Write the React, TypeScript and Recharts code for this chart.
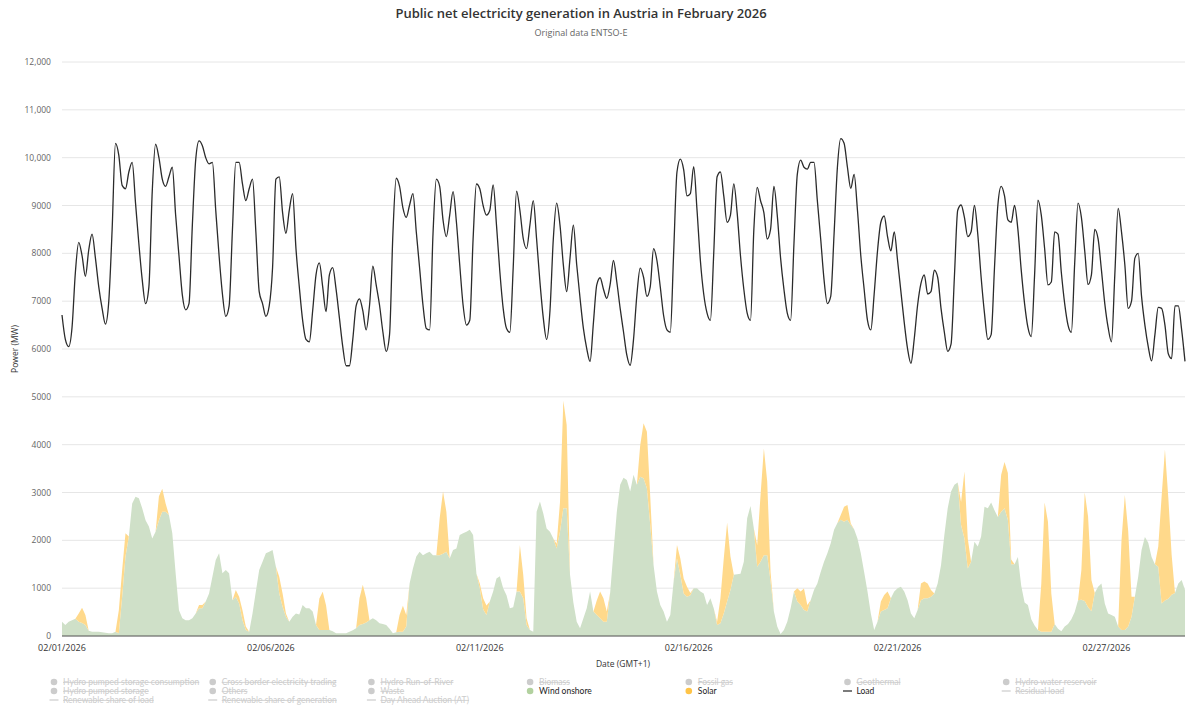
import { ComposedChart, Area, Line, XAxis, YAxis, CartesianGrid } from 'recharts';

// one reading every 2 hours, 02/01 00:00 .. 03/01 00:00 (GMT+1)
const STEP_HOURS = 2;

const load = [
  6710, 6200, 6050, 6450, 7600, 8230, 7950, 7520, 8070, 8400, 7900, 7300,
  6850, 6520, 7000, 8500, 10300, 10050, 9420, 9350, 9700, 9900, 9050, 8200,
  7450, 6950, 7300, 9290, 10280, 10000, 9550, 9400, 9600, 9800, 8800, 7950,
  7130, 6820, 6950, 8590, 9950, 10350, 10250, 10000, 9870, 9900, 8900, 7950,
  7150, 6680, 6900, 8500, 9900, 9900, 9450, 9100, 9350, 9550, 8450, 7200,
  6950, 6680, 6900, 7700, 9550, 9600, 8850, 8420, 8900, 9250, 8100, 7300,
  6600, 6200, 6150, 6800, 7550, 7800, 7300, 6780, 7550, 7700, 7250, 6650,
  6050, 5650, 5650, 6200, 6900, 7050, 6800, 6400, 6900, 7730, 7340, 6920,
  6360, 5950, 6300, 8400, 9570, 9400, 8950, 8750, 9010, 9250, 8450, 7690,
  6920, 6430, 6400, 8400, 9550, 9400, 8700, 8350, 8800, 9290, 8660, 7760,
  6920, 6500, 6600, 8300, 9450, 9350, 9000, 8800, 8900, 9430, 8590, 7620,
  6850, 6430, 6350, 7700, 9300, 8900, 8310, 8100, 8590, 9100, 8300, 7400,
  6650, 6200, 6800, 8300, 9050, 8590, 7760, 7200, 7900, 8590, 7760, 7060,
  6430, 6010, 5740, 6550, 7340, 7490, 7250, 7060, 7350, 7850, 7400, 6850,
  6360, 5870, 5660, 6200, 7130, 7690, 7500, 7100, 7300, 8100, 7850, 7300,
  6700, 6400, 6350, 8000, 9700, 9970, 9750, 9200, 9250, 9810, 8900, 7850,
  7150, 6750, 6600, 8000, 9600, 9700, 9200, 8650, 8800, 9450, 8850, 7950,
  7250, 6750, 6600, 8500, 9380, 9100, 8850, 8300, 8500, 9400, 8800, 7900,
  7250, 6750, 6600, 8200, 9650, 9950, 9800, 9760, 9900, 9900, 9100, 8300,
  7450, 6950, 7100, 8400, 9800, 10400, 10300, 9800, 9360, 9650, 8900, 7950,
  7250, 6600, 6400, 7150, 8050, 8650, 8780, 8350, 8050, 8450, 7850, 7200,
  6550, 6000, 5700, 6220, 6920, 7370, 7550, 7150, 7200, 7650, 7500, 6850,
  6350, 5950, 6100, 7500, 8900, 9010, 8750, 8350, 8450, 9000, 8400, 7500,
  6750, 6200, 6300, 7700, 9000, 9400, 9200, 8700, 8650, 9000, 8500, 7650,
  6950, 6450, 6260, 7550, 9110, 8800, 8100, 7340, 7400, 8450, 8400, 7600,
  6950, 6500, 6350, 7800, 9050, 8750, 8050, 7350, 7550, 8500, 8300, 7650,
  6950, 6450, 6150, 7550, 8940, 8450, 7760, 6850, 7000, 7900, 8000, 7100,
  6500, 6050, 5750, 6300, 6870, 6850, 6500, 5900, 5800, 6900, 6900, 6400,
  5740,
];

const windOnshore = [
  300, 230, 300, 330, 360, 300, 270, 230, 110, 90, 90, 90,
  80, 70, 60, 60, 90, 60, 820, 1660, 2080, 2770, 2910, 2880,
  2670, 2420, 2290, 2040, 2180, 2420, 2600, 2600, 2530, 2150, 1310, 540,
  370, 330, 330, 370, 470, 580, 580, 720, 890, 1240, 1590, 1730,
  1310, 1380, 1310, 750, 820, 680, 330, 125, 90, 470, 930, 1380,
  1550, 1730, 1760, 1800, 1450, 890, 610, 400, 300, 400, 470, 450,
  650, 580, 580, 510, 230, 125, 125, 125, 125, 100, 55, 55,
  55, 60, 90, 120, 160, 230, 250, 280, 330, 370, 330, 265,
  250, 230, 150, 55, 80, 90, 90, 200, 1100, 1410, 1660, 1760,
  1690, 1730, 1760, 1690, 1690, 1690, 1720, 1760, 1620, 1800, 1830, 2110,
  2150, 2180, 2220, 2110, 1300, 1000, 560, 440, 720, 930, 1200, 1250,
  1000, 850, 580, 600, 930, 930, 790, 230, 125, 90, 2600, 2810,
  2560, 2250, 2180, 2040, 1830, 2180, 2670, 2670, 1280, 700, 300, 160,
  370, 580, 930, 510, 440, 370, 300, 300, 900, 1760, 2600, 3160,
  3310, 3260, 3020, 3370, 3160, 3330, 3300, 3090, 2320, 1480, 930, 650,
  510, 300, 440, 1140, 1620, 1280, 890, 820, 850, 1000, 1000, 930,
  890, 650, 790, 580, 230, 265, 470, 720, 960, 1280, 1290, 1300,
  1550, 2460, 2720, 2250, 1450, 1550, 1690, 1690, 1140, 510, 200, 40,
  125, 300, 580, 930, 720, 650, 545, 510, 750, 960, 1100, 1340,
  1550, 1730, 1940, 2220, 2360, 2430, 2390, 2430, 2320, 2230, 2040, 1730,
  1340, 930, 470, 125, 300, 510, 545, 580, 790, 930, 1000, 1030,
  930, 750, 470, 370, 545, 750, 790, 790, 820, 890, 1100, 1480,
  2110, 2670, 3020, 3160, 3210, 2320, 2040, 1410, 1550, 1970, 1870, 2080,
  2700, 2670, 2790, 2630, 2490, 2600, 2670, 2430, 1500, 1500, 1650, 1050,
  700, 650, 350, 220, 125, 90, 90, 90, 90, 250, 150, 100,
  200, 250, 350, 500, 750, 760, 730, 600, 520, 900, 1030, 1100,
  680, 470, 440, 400, 200, 125, 125, 200, 400, 820, 1240, 1800,
  2070, 1950, 1650, 1500, 1450, 680, 740, 780, 860, 900, 1100, 1170,
  960,
];

const solar = [
  0, 0, 0, 0, 0, 170, 320, 210, 0, 0, 0, 0,
  0, 0, 0, 0, 0, 480, 560, 490, 0, 0, 0, 0,
  0, 0, 0, 0, 0, 500, 480, 170, 0, 0, 0, 0,
  0, 0, 0, 0, 0, 70, 70, 0, 0, 0, 0, 0,
  0, 0, 0, 0, 140, 140, 210, 75, 0, 0, 0, 0,
  0, 0, 0, 0, 0, 350, 280, 70, 0, 0, 0, 0,
  0, 0, 0, 0, 0, 660, 800, 520, 0, 0, 0, 0,
  0, 0, 0, 0, 0, 560, 820, 510, 0, 0, 0, 0,
  0, 0, 0, 0, 0, 350, 540, 240, 0, 0, 0, 0,
  0, 0, 0, 0, 0, 770, 1300, 840, 0, 0, 0, 0,
  0, 0, 0, 0, 0, 100, 230, 200, 0, 0, 0, 0,
  0, 0, 0, 0, 0, 970, 490, 140, 0, 0, 0, 0,
  0, 0, 0, 0, 100, 620, 2250, 1740, 0, 0, 0, 0,
  0, 0, 0, 0, 300, 560, 490, 210, 0, 0, 0, 0,
  0, 0, 0, 0, 0, 660, 1150, 1180, 600, 0, 0, 0,
  0, 0, 0, 0, 280, 340, 310, 210, 50, 0, 0, 0,
  0, 0, 0, 0, 70, 525, 1150, 1650, 700, 0, 0, 0,
  0, 0, 0, 0, 450, 1390, 2230, 1540, 200, 0, 0, 0,
  0, 0, 0, 0, 280, 280, 450, 140, 0, 0, 0, 0,
  0, 0, 0, 0, 0, 100, 310, 310, 30, 0, 0, 0,
  0, 0, 0, 0, 0, 210, 310, 350, 0, 0, 0, 0,
  0, 0, 0, 0, 0, 350, 350, 310, 140, 0, 0, 0,
  0, 0, 0, 0, 0, 480, 1400, 630, 0, 0, 0, 0,
  0, 0, 0, 0, 0, 770, 970, 980, 100, 0, 0, 0,
  0, 0, 0, 0, 0, 1000, 2700, 2300, 800, 0, 0, 0,
  0, 0, 0, 0, 0, 620, 2270, 1900, 650, 0, 0, 0,
  0, 0, 0, 0, 0, 1875, 2825, 2000, 420, 0, 0, 0,
  0, 0, 0, 0, 420, 2230, 3160, 2120, 840, 0, 0, 0,
  0,
];

const xTicks = [0, 125, 250, 375, 500, 625];
const xTickLabels = ['02/01/2026', '02/06/2026', '02/11/2026', '02/16/2026', '02/21/2026', '02/27/2026'];
const yTicks = [0, 1000, 2000, 3000, 4000, 5000, 6000, 7000, 8000, 9000, 10000, 11000, 12000];

// [label, marker, visible, colour]
const legendRows: [string, 'dot' | 'line', boolean, string][][] = [
  [
    ['Hydro pumped storage consumption', 'dot', false, ''],
    ['Cross border electricity trading', 'dot', false, ''],
    ['Hydro Run-of-River', 'dot', false, ''],
    ['Biomass', 'dot', false, ''],
    ['Fossil gas', 'dot', false, ''],
    ['Geothermal', 'dot', false, ''],
    ['Hydro water reservoir', 'dot', false, ''],
  ],
  [
    ['Hydro pumped storage', 'dot', false, ''],
    ['Others', 'dot', false, ''],
    ['Waste', 'dot', false, ''],
    ['Wind onshore', 'dot', true, '#b2d19f'],
    ['Solar', 'dot', true, '#ffc447'],
    ['Load', 'line', true, '#222222'],
    ['Residual load', 'line', false, ''],
  ],
  [
    ['Renewable share of load', 'line', false, ''],
    ['Renewable share of generation', 'line', false, ''],
    ['Day Ahead Auction (AT)', 'line', false, ''],
  ],
];

const data = load.map((v, i) => ({
  h: i * STEP_HOURS,
  load: v,
  wind: windOnshore[i],
  solar: solar[i],
}));

const FONT = '"Open Sans", "DejaVu Sans", sans-serif';
const LEGEND_FONT = 'Lato, "Open Sans", sans-serif';
const OFF = '#cccccc';

const fmtY = (v: number) => (v >= 10000 ? v.toLocaleString('en-US') : String(v));
const fmtX = (v: number) => xTickLabels[xTicks.indexOf(v)] ?? '';

export default function App() {
  return (
    <div style={{ position: 'absolute', left: 0, top: 0, width: 1200, height: 711, background: '#fff', fontFamily: FONT }}>
      <ComposedChart width={1200} height={711} data={data} margin={{ top: 62, right: 15, bottom: 55, left: 12 }}>
        <CartesianGrid vertical={false} stroke="#e6e6e6" />
        <XAxis
          dataKey="h"
          type="number"
          domain={[0, 672]}
          ticks={xTicks}
          tickFormatter={fmtX}
          interval={0}
          height={20}
          axisLine={{ stroke: '#555', strokeWidth: 1 }}
          tickLine={false}
          tickSize={4}
          tickMargin={5}
          tick={{ fontSize: 9, fill: '#333', fontFamily: FONT }}
        />
        <YAxis
          type="number"
          domain={[0, 12000]}
          ticks={yTicks}
          tickFormatter={fmtY}
          interval={0}
          width={50}
          axisLine={false}
          tickLine={false}
          tickSize={5}
          tickMargin={6}
          tick={{ fontSize: 8.5, fill: '#666', fontFamily: FONT }}
        />
        <Area
          dataKey="wind"
          stackId="gen"
          type="linear"
          stroke="none"
          fill="#cfe0c8"
          fillOpacity={1}
          isAnimationActive={false}
        />
        <Area
          dataKey="solar"
          stackId="gen"
          type="linear"
          stroke="none"
          fill="#ffd98b"
          fillOpacity={1}
          isAnimationActive={false}
        />
        <Line
          dataKey="load"
          type="monotone"
          stroke="#2b2b2b"
          strokeWidth={1.3}
          dot={false}
          activeDot={false}
          isAnimationActive={false}
        />
      </ComposedChart>

      <svg width={1200} height={711} style={{ position: 'absolute', left: 0, top: 0, pointerEvents: 'none' }} fontFamily={FONT}>
        <text x={581} y={18} textAnchor="middle" fontSize={13} fontWeight={600} fill="#333">
          Public net electricity generation in Austria in February 2026
        </text>
        <text x={581} y={36} textAnchor="middle" fontSize={9} fill="#666">
          Original data ENTSO-E
        </text>
        <text x={623} y={667} textAnchor="middle" fontSize={8.5} fill="#333">
          Date (GMT+1)
        </text>
        <text x={18} y={349} textAnchor="middle" fontSize={8.5} fill="#333" transform="rotate(-90 18 349)">
          Power (MW)
        </text>
        {legendRows.map((row, r) =>
          row.map(([label, marker, on, color], c) => {
            const mx = 54 + c * 158.7;
            const my = 682 + r * 9;
            const col = on ? color : OFF;
            return (
              <g key={label}>
                {marker === 'dot' ? (
                  <circle cx={mx} cy={my} r={3.3} fill={col} />
                ) : (
                  <line x1={mx - 4.5} x2={mx + 4.5} y1={my} y2={my} stroke={col} strokeWidth={1.2} />
                )}
                <text
                  x={mx + 9}
                  y={my + 3}
                  fontSize={8.5}
                  fontFamily={LEGEND_FONT}
                  fill={on ? '#222' : OFF}
                  textDecoration={on ? 'none' : 'line-through'}
                >
                  {label}
                </text>
              </g>
            );
          })
        )}
      </svg>
    </div>
  );
}
